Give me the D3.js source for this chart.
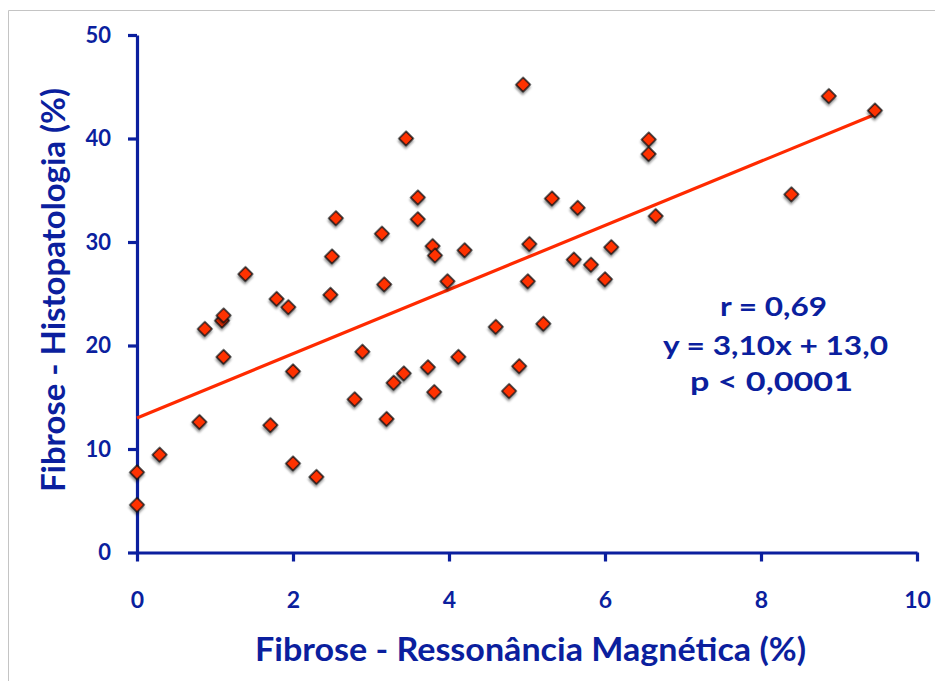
<!DOCTYPE html>
<html>
<head>
<meta charset="utf-8">
<script src="https://cdn.jsdelivr.net/npm/d3@7"></script>
<style>
	body { margin: 0; background: #fff; }
	svg { display: block; font-family: Lato, "Open Sans", sans-serif; font-weight: bold; }
</style>
</head>
<body>
<div id="chart"></div>
<script>
// DATA
const rmValues = [0, 0, 0.29, 0.8, 0.87, 1.09, 1.11, 1.11, 1.39, 1.71, 1.79, 1.94, 2.0, 2.0, 2.3,
	2.48, 2.5, 2.55, 2.79, 2.89, 3.14, 3.17, 3.2, 3.29, 3.42, 3.45, 3.6, 3.6, 3.73, 3.79, 3.82, 3.81,
	3.98, 4.12, 4.2, 4.6, 4.77, 4.9, 4.95, 5.01, 5.03, 5.21, 5.32, 5.6, 5.65, 5.82, 6.0, 6.08,
	6.56, 6.56, 6.65, 8.39, 8.87, 9.46];
const histoValues = [4.6, 7.75, 9.45, 12.6, 21.6, 22.4, 22.9, 18.9, 26.9, 12.3, 24.5, 23.7, 17.5, 8.6, 7.3,
	24.9, 28.6, 32.3, 14.8, 19.4, 30.8, 25.9, 12.9, 16.4, 17.3, 40.0, 34.3, 32.2, 17.9, 29.6, 28.7, 15.5,
	26.2, 18.9, 29.2, 21.8, 15.6, 18.0, 45.2, 26.2, 29.8, 22.1, 34.2, 28.3, 33.3, 27.8, 26.4, 29.5,
	39.9, 38.5, 32.5, 34.6, 44.1, 42.7];
const xTicks = [0, 2, 4, 6, 8, 10];
const yTicks = [0, 10, 20, 30, 40, 50];
const fitSlope = 3.10;
const fitIntercept = 13.0;
const statLines = ["r = 0,69", "y = 3,10x + 13,0", "p < 0,0001"];

const blue = "#0b1f9e";
const outerWidth = 935;
const outerHeight = 681;

const svg = d3.select("#chart").append("svg")
	.attr("width", outerWidth)
	.attr("height", outerHeight);

// shadow for markers
const defs = svg.append("defs");
defs.append("filter")
	.attr("id", "shadow")
	.attr("x", "-50%").attr("y", "-50%")
	.attr("width", "200%").attr("height", "200%")
	.append("feDropShadow")
	.attr("dx", 1.5).attr("dy", 2)
	.attr("stdDeviation", 1.3)
	.attr("flood-color", "#000")
	.attr("flood-opacity", 0.45);

// thin frame at left/top
svg.append("path")
	.attr("d", "M8.5,681 L8.5,10.5 L935,10.5")
	.attr("fill", "none")
	.attr("stroke", "#c4c4c4")
	.attr("stroke-width", 1);

const x = d3.scaleLinear().domain([0, 10]).range([137, 917]);
const y = d3.scaleLinear().domain([0, 50]).range([552.5, 35]);

// axes
const xAxis = svg.append("g")
	.attr("transform", `translate(0, ${y(0)})`)
	.call(d3.axisBottom(x).tickValues(xTicks).tickSize(9).tickSizeOuter(0).tickPadding(30));
const yAxis = svg.append("g")
	.attr("transform", `translate(${x(0)}, 0)`)
	.call(d3.axisLeft(y).tickValues(yTicks).tickSize(9).tickSizeOuter(0).tickPadding(17));

[xAxis, yAxis].forEach(a => {
	a.select(".domain").attr("stroke", blue).attr("stroke-width", 3.2);
	a.selectAll(".tick line").attr("stroke", blue).attr("stroke-width", 3.2);
	a.selectAll(".tick text")
		.attr("fill", blue)
		.style("font-family", "Lato, sans-serif")
		.style("font-weight", "bold");
});
xAxis.selectAll(".tick text").style("font-size", "23px");
yAxis.selectAll(".tick text").style("font-size", "22px");

// regression line
const fitX = [0, d3.max(rmValues)];
svg.append("line")
	.attr("x1", x(fitX[0]))
	.attr("y1", y(fitIntercept + fitSlope * fitX[0]))
	.attr("x2", x(fitX[1]))
	.attr("y2", y(fitIntercept + fitSlope * fitX[1]))
	.attr("stroke", "#ff2a00")
	.attr("stroke-width", 3.2);

// points
const points = rmValues.map((v, i) => ({ rm: v, histo: histoValues[i] }));
const diamond = d3.symbol().type(d3.symbolSquare).size(98);
svg.append("g")
	.selectAll("path")
	.data(points)
	.enter()
	.append("path")
	.attr("d", diamond)
	.attr("transform", d => `translate(${x(d.rm)}, ${y(d.histo)}) rotate(45)`)
	.attr("fill", "#ff3300")
	.attr("stroke", "#111")
	.attr("stroke-width", 1.4)
	.attr("filter", "url(#shadow)");

// stats annotation
const statCx = [773.5, 775.5, 771.5];
const statBase = [316, 355, 391];
const statWidth = [107, 225, 163];
svg.append("g")
	.selectAll("text")
	.data(statLines)
	.enter()
	.append("text")
	.attr("x", (d, i) => statCx[i])
	.attr("y", (d, i) => statBase[i])
	.attr("text-anchor", "middle")
	.attr("textLength", (d, i) => statWidth[i])
	.attr("lengthAdjust", "spacingAndGlyphs")
	.attr("fill", blue)
	.style("font-size", "26px")
	.text(d => d);

// axis titles
svg.append("text")
	.attr("x", 530.5)
	.attr("y", 661)
	.attr("text-anchor", "middle")
	.attr("textLength", 551)
	.attr("lengthAdjust", "spacingAndGlyphs")
	.attr("fill", blue)
	.style("font-size", "32px")
	.text("Fibrose - Ressonância Magnética (%)");

svg.append("text")
	.attr("transform", "translate(65, 290) rotate(-90)")
	.attr("text-anchor", "middle")
	.attr("textLength", 404)
	.attr("lengthAdjust", "spacingAndGlyphs")
	.attr("fill", blue)
	.style("font-size", "32px")
	.text("Fibrose - Histopatologia (%)");
</script>
</body>
</html>
